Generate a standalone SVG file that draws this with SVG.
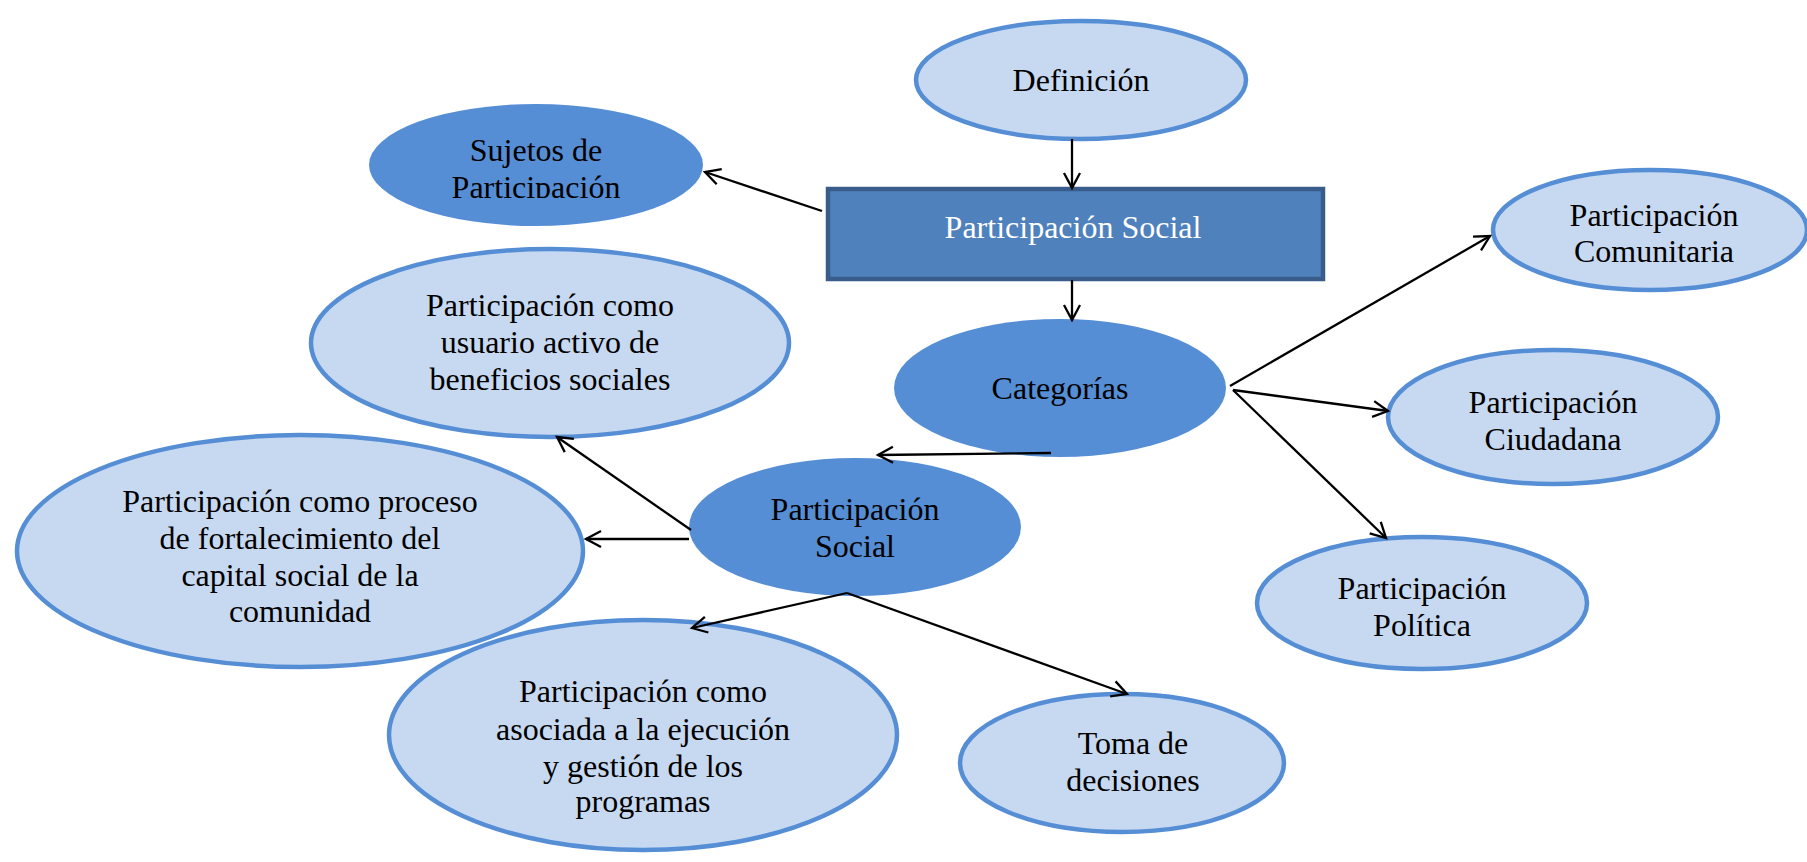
<svg xmlns="http://www.w3.org/2000/svg" width="1807" height="862" viewBox="0 0 1807 862">
<style>
.light{fill:#C6D9F1;stroke:#558ED5;stroke-width:4.5}
.dark{fill:#558ED5;stroke:none}
.box{fill:#4F81BD;stroke:#385D8A;stroke-width:4.5}
text{font-family:"Liberation Serif","Times New Roman",serif;font-size:32px;fill:#000;text-anchor:middle}
.w{fill:#fff}
.c line{stroke:#000;stroke-width:2.3;marker-end:url(#a)}
</style>
<defs>
<marker id="a" markerWidth="20" markerHeight="20" refX="16" refY="10" orient="auto" markerUnits="userSpaceOnUse">
<path d="M1,2 L16,10 L1,18" fill="none" stroke="#000" stroke-width="2.3"/>
</marker>
<clipPath id="clipS"><rect x="400" y="100" width="280" height="98"/></clipPath>
</defs>
<rect width="1807" height="862" fill="#fff"/>
<g id="definicion"><ellipse class="light" cx="1081" cy="80" rx="165" ry="59"/><text x="1081" y="91">Definición</text></g>
<g id="sujetos"><ellipse class="dark" cx="536" cy="165" rx="167" ry="61"/><g clip-path="url(#clipS)"><text x="536" y="161">Sujetos de</text><text x="536" y="198">Participación</text></g></g>
<g id="participacion-social-box"><rect class="box" x="828" y="189" width="495" height="90"/><text class="w" x="1073" y="238">Participación Social</text></g>
<g id="comunitaria"><ellipse class="light" cx="1650" cy="230" rx="157" ry="60"/><text x="1654" y="226">Participación</text><text x="1654" y="262">Comunitaria</text></g>
<g id="usuario"><ellipse class="light" cx="550" cy="343" rx="239" ry="94"/><text x="550" y="316">Participación como</text><text x="550" y="353">usuario activo de</text><text x="550" y="390">beneficios sociales</text></g>
<g id="categorias"><ellipse class="dark" cx="1060" cy="388" rx="166" ry="69"/><text x="1060" y="399">Categorías</text></g>
<g id="ciudadana"><ellipse class="light" cx="1553" cy="417" rx="165" ry="67"/><text x="1553" y="413">Participación</text><text x="1553" y="450">Ciudadana</text></g>
<g id="participacion-social"><ellipse class="dark" cx="855" cy="527" rx="166" ry="69"/><text x="855" y="520">Participación</text><text x="855" y="557">Social</text></g>
<g id="proceso"><ellipse class="light" cx="300" cy="551" rx="283" ry="116"/><text x="300" y="512">Participación como proceso</text><text x="300" y="549">de fortalecimiento del</text><text x="300" y="586">capital social de la</text><text x="300" y="622">comunidad</text></g>
<g id="politica"><ellipse class="light" cx="1422" cy="603" rx="165" ry="66"/><text x="1422" y="599">Participación</text><text x="1422" y="636">Política</text></g>
<g id="asociada"><ellipse class="light" cx="643" cy="735" rx="254" ry="115"/><text x="643" y="702">Participación como</text><text x="643" y="740">asociada a la ejecución</text><text x="643" y="777">y gestión de los</text><text x="643" y="812">programas</text></g>
<g id="toma"><ellipse class="light" cx="1122" cy="763" rx="162" ry="69"/><text x="1133" y="754">Toma de</text><text x="1133" y="791">decisiones</text></g>
<g class="c" id="connectors">
<line x1="1072" y1="139" x2="1072" y2="188"/>
<line x1="822" y1="211" x2="705" y2="172"/>
<line x1="1072" y1="280" x2="1072" y2="320"/>
<line x1="1230" y1="386" x2="1490" y2="236"/>
<line x1="1233" y1="390" x2="1388" y2="411"/>
<line x1="1233" y1="390" x2="1386" y2="538"/>
<line x1="1051" y1="453" x2="878" y2="455"/>
<line x1="691" y1="530" x2="557" y2="437"/>
<line x1="689" y1="539" x2="586" y2="539"/>
<line x1="847" y1="593" x2="692" y2="628"/>
<line x1="847" y1="593" x2="1127" y2="694"/>
</g>
</svg>
